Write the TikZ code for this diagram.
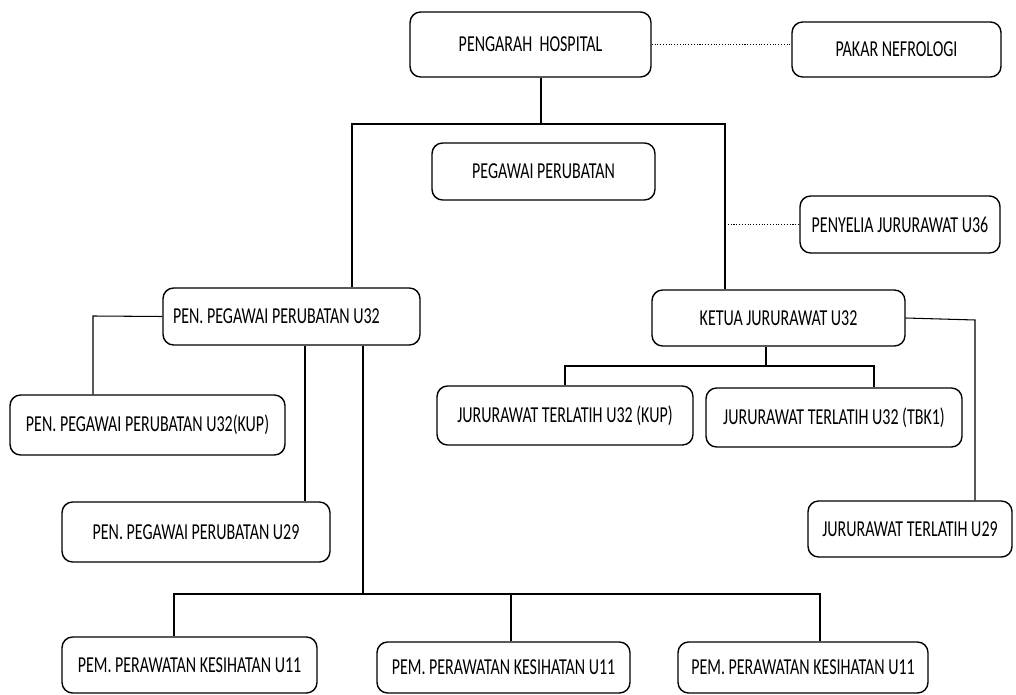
\documentclass[tikz,border=0pt]{standalone}
\usepackage{fontspec}
\newfontfamily\orgfont{Carlito}[FakeStretch=0.7]
\usetikzlibrary{positioning,calc}

\begin{document}
\begin{tikzpicture}[
    x=0.02cm, y=-0.02cm,
    every node/.style={font=\orgfont\fontsize{13}{15}\selectfont},
    unit/.style={draw, line width=0.8pt, rounded corners=6pt, align=center, inner sep=2pt},
    link/.style={line width=0.6pt},
    dotlink/.style={line width=0.6pt, densely dotted},
]
\useasboundingbox (0,0) rectangle (1016,695);

% Top level
\node[unit, minimum width=4.82cm, minimum height=1.30cm] (dir) at (530.5,44.5) {PENGARAH\ \ HOSPITAL};
\node[unit, minimum width=4.18cm, minimum height=1.10cm] (pakar) at (896.5,49.5) {PAKAR NEFROLOGI};
\node[unit, minimum width=4.46cm, minimum height=1.14cm] (mo) at (543.5,171.5) {PEGAWAI PERUBATAN};
\node[unit, minimum width=4.00cm, minimum height=1.14cm] (penyelia) at (900,224.5) {PENYELIA JURURAWAT U36};

% Medical branch
\node[unit, minimum width=5.14cm, minimum height=1.14cm] (pen32) at (291.5,316.5) {\makebox[4.74cm][l]{PEN. PEGAWAI PERUBATAN U32}};
\node[unit, minimum width=5.50cm, minimum height=1.20cm] (pen32kup) at (147.5,425) {PEN. PEGAWAI PERUBATAN U32(KUP)};
\node[unit, minimum width=5.36cm, minimum height=1.20cm] (pen29) at (196,532) {PEN. PEGAWAI PERUBATAN U29};

% Health care assistants
\node[unit, minimum width=5.10cm, minimum height=1.12cm] (pem1) at (189.5,665) {PEM. PERAWATAN KESIHATAN U11};
\node[unit, minimum width=5.06cm, minimum height=1.02cm] (pem2) at (503.5,667.5) {PEM. PERAWATAN KESIHATAN U11};
\node[unit, minimum width=5.00cm, minimum height=1.02cm] (pem3) at (803,667.5) {PEM. PERAWATAN KESIHATAN U11};

% Nursing branch
\node[unit, minimum width=5.06cm, minimum height=1.12cm] (ketua) at (778.5,318) {KETUA JURURAWAT U32};
\node[unit, minimum width=5.12cm, minimum height=1.18cm] (jtkup) at (565,415.5) {JURURAWAT TERLATIH U32 (KUP)};
\node[unit, minimum width=5.12cm, minimum height=1.18cm] (jttbk) at (834,417.5) {JURURAWAT TERLATIH U32 (TBK1)};
\node[unit, minimum width=4.08cm, minimum height=1.12cm] (jt29) at (910,529) {JURURAWAT TERLATIH U29};

% Junctions
\coordinate (barM) at (541,124);
\coordinate (barL) at (352,124);
\coordinate (barR) at (725,124);
\coordinate (kupJ) at (93,316);
\coordinate (d29) at (305,345);
\coordinate (pemM) at (363,594);
\coordinate (pemL) at (174,594);
\coordinate (pemC) at (511,594);
\coordinate (pemR) at (820,594);
\coordinate (ketJ) at (975,320);
\coordinate (jtM) at (766,366);
\coordinate (jtL) at (565,366);
\coordinate (jtR) at (874,366);

% Connectors
\draw[link] (barM |- dir.south) -- (barM);
\draw[link] (barL |- pen32.north) -- (barL) -- (barR) -- (barR |- ketua.north);
\draw[dotlink] (dir.east) -- (dir.east -| pakar.west);
\draw[dotlink] (barR |- penyelia.west) -- (penyelia.west);

\draw[link] (pen32.west) -- (kupJ) -- (kupJ |- pen32kup.north);
\draw[link] (d29 |- pen32.south) -- (d29 |- pen29.north);
\draw[link] (pemM |- pen32.south) -- (pemM);
\draw[link] (pemL |- pem1.north) -- (pemL) -- (pemR) -- (pemR |- pem3.north);
\draw[link] (pemC) -- (pemC |- pem2.north);

\draw[link] (ketua.east) -- (ketJ) -- (ketJ |- jt29.north);
\draw[link] (jtM |- ketua.south) -- (jtM);
\draw[link] (jtL |- jtkup.north) -- (jtL) -- (jtR) -- (jtR |- jttbk.north);

\end{tikzpicture}
\end{document}
